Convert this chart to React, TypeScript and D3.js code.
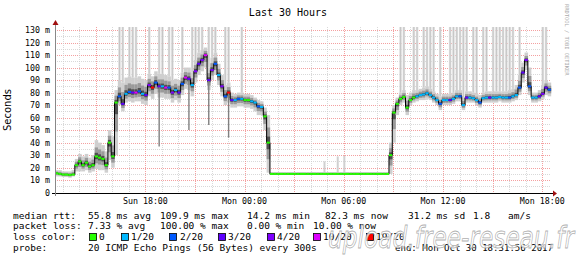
import React from "react";
import * as d3 from "d3";

const START = new Date(2017, 9, 29, 12, 31, 56);
const END = new Date(2017, 9, 30, 18, 31, 56);
const STEP_MIN = 12;
const Y_MAX = 132.4;

// median rtt (ms), one value per 12-minute step
const median = [
  15.5, 15, 14.5, 14.5, 14.2, 14.5, 22, 25, 22, 24,
  21, 22, 29, 28, 27, 22, 40, 29, 72, 77,
  71, 79, 80.5, 80, 80, 81, 79, 78, 86, 84,
  88, 85, 85, 84, 84, 80, 82, 80, 87, 92,
  91, 86, 97, 103, 106, 109.9, 90, 98, 103, 94,
  85, 77, 80, 74, 74, 75, 75, 74, 74, 73,
  72, 69, 68.5, 61, 40, 15, 15, 15, 15, 15,
  15, 15, 15, 15, 15, 15, 15, 15, 15, 15,
  15, 15, 15, 15, 15, 15, 15, 15, 15, 15,
  15, 15, 15, 15, 15, 15, 15, 15, 15, 15,
  15, 30, 64, 71, 75, 76.5, 68, 74, 76, 77,
  78, 78.5, 79.5, 78, 76, 74, 71, 74, 74, 74,
  75, 77, 77, 70, 76, 76, 75.5, 74, 72, 75.5,
  76, 76, 76, 76, 76.5, 76, 76, 76, 77, 78,
  84, 96, 106, 85, 76, 76, 77, 79, 84, 82.3,
];

// lost pings out of 20 per step
const loss = [
  0, 0, 0, 0, 0, 0, 0, 0, 0, 0,
  0, 0, 0, 0, 0, 0, 0, 0, 0, 2,
  3, 1, 2, 3, 10, 2, 1, 3, 4, 19,
  2, 3, 1, 10, 2, 4, 1, 3, 2, 10,
  3, 1, 4, 3, 4, 10, 3, 4, 2, 1,
  4, 2, 19, 3, 1, 2, 1, 0, 0, 1,
  1, 2, 1, 0, 0, 0, 0, 0, 0, 0,
  0, 0, 0, 0, 0, 0, 0, 0, 0, 0,
  0, 0, 0, 0, 0, 0, 0, 0, 0, 0,
  0, 0, 0, 0, 0, 0, 0, 0, 0, 0,
  0, 0, 0, 0, 0, 0, 0, 0, 0, 1,
  1, 1, 1, 1, 1, 1, 2, 1, 1, 3,
  1, 1, 2, 1, 3, 1, 1, 1, 2, 1,
  1, 3, 1, 1, 1, 1, 1, 2, 1, 1,
  2, 3, 4, 2, 1, 1, 3, 4, 3, 2,
];

// smoke: lowest / highest ping of the main cloud (ms)
const smokeLo = [
  13, 13, 12.5, 12.5, 12, 13, 17, 17, 17, 18,
  16, 17, 19, 18, 18, 16, 26, 20, 30, 70,
  65, 72, 73, 72, 73, 73, 71, 70, 77, 75,
  79, 76, 76, 75, 75, 72, 74, 72, 78, 83,
  82, 77, 88, 94, 97, 100, 82, 90, 94, 86,
  77, 70, 72, 68, 68, 69, 69, 68, 68, 67,
  65, 62, 62, 50, 16, 14.5, 14.5, 14.5, 14.5, 14.5,
  14.5, 14.5, 14.5, 14.5, 14.5, 14.5, 14.5, 14.5, 14.5, 14.5,
  14.5, 14.5, 14.5, 14.5, 14.5, 14.5, 14.5, 14.5, 14.5, 14.5,
  14.5, 14.5, 14.5, 14.5, 14.5, 14.5, 14.5, 14.5, 14.5, 14.5,
  14.5, 15, 40, 62, 70, 72, 62, 70, 72, 73,
  74, 74, 75, 74, 72, 70, 66, 70, 70, 70,
  71, 73, 73, 66, 72, 72, 72, 70, 68, 72,
  72, 72, 72, 72, 73, 72, 72, 72, 73, 74,
  78, 88, 98, 78, 72, 72, 73, 75, 78, 77,
];
const smokeHi = [
  18, 18, 17, 17, 17, 18, 27, 31, 29, 31,
  28, 30, 42, 40, 38, 33, 50, 45, 82, 90,
  88, 92, 93, 92, 92, 93, 91, 90, 95, 93,
  97, 95, 95, 94, 93, 90, 91, 90, 96, 100,
  100, 96, 106, 112, 114, 116, 100, 108, 112, 103,
  94, 86, 88, 80, 79, 80, 80, 79, 79, 78,
  76, 74, 73, 68, 62, 16.5, 16.5, 16.5, 16.5, 16.5,
  16.5, 16.5, 16.5, 16.5, 16.5, 16.5, 16.5, 16.5, 16.5, 16.5,
  16.5, 16.5, 16.5, 16.5, 16.5, 16.5, 16.5, 16.5, 16.5, 16.5,
  16.5, 16.5, 16.5, 16.5, 16.5, 16.5, 16.5, 16.5, 16.5, 16.5,
  16.5, 40, 70, 76, 80, 82, 78, 80, 82, 82,
  83, 84, 85, 83, 81, 79, 77, 79, 79, 79,
  80, 82, 82, 76, 81, 81, 80, 79, 78, 80,
  81, 81, 81, 81, 81, 81, 81, 82, 83, 86,
  94, 104, 112, 100, 80, 80, 82, 86, 90, 88,
];

// steps whose slowest ping went off the top of the graph
const spikeSteps = [
  19, 20, 22, 23, 24, 28, 31, 32, 34, 35, 38, 41, 42, 43, 44, 46, 47, 48, 51, 52, 56,
  104, 105, 108, 109, 111, 112, 113, 114, 116, 119, 120, 121, 122, 123, 124, 126, 127,
  129, 130, 132, 133, 134, 135, 136, 137, 138, 140, 147, 148,
];
// isolated slow pings in the flat stretch: [step, ms]
const smallSpikes: [number, number][] = [[81, 25], [85, 29], [87, 29.5]];
// steps with a single very fast ping: [step, ms]
const dipSteps: [number, number][] = [
  [31, 37], [40, 50], [46, 54], [52, 44],
];

const yTicks = [0, 10, 20, 30, 40, 50, 60, 70, 80, 90, 100, 110, 120, 130];
const yTickLabels = ["0", "10 m", "20 m", "30 m", "40 m", "50 m", "60 m", "70 m", "80 m", "90 m", "100 m", "110 m", "120 m", "130 m"];
const xLabelTimes = [
  new Date(2017, 9, 29, 18, 0), new Date(2017, 9, 30, 0, 0), new Date(2017, 9, 30, 6, 0),
  new Date(2017, 9, 30, 12, 0), new Date(2017, 9, 30, 18, 0),
];

const lossLevels = [0, 1, 2, 3, 4, 10, 19];
const lossLabels = ["0", "1/20", "2/20", "3/20", "4/20", "10/20", "19/20"];
const lossColorList = ["#26ff00", "#00b8ff", "#0059ff", "#5e00ff", "#7e00ff", "#dd00ff", "#ff0000"];

const rttLine = [
  ["median rtt:", 13], ["55.8 ms avg", 88], ["109.9 ms max", 160], ["14.2 ms min", 247],
  ["82.3 ms now", 325], ["31.2 ms sd", 408], ["1.8", 473], ["am/s", 508],
];
const lossLine = [
  ["packet loss:", 13], ["7.33 % avg", 88], ["100.00 % max", 160], ["0.00 % min", 247], ["10.00 % now", 313],
];
const legendBoxX = [89, 121, 169, 218, 267, 313, 366];
const legendTextX = [99, 131, 180, 228, 277, 323, 376];

const MONO = "'DejaVu Sans Mono', monospace";

function lossColor(l: number) {
  let idx = 0;
  for (let k = 0; k < lossLevels.length; k++) if (l >= lossLevels[k]) idx = k;
  return lossColorList[idx];
}

export default function App() {
  const W = 576, H = 260;
  const left = 55, right = 551, top = 27, bottom = 192.7;
  const x = d3.scaleTime().domain([START, END]).range([left, right]);
  const y = d3.scaleLinear().domain([0, Y_MAX]).range([bottom, top]);
  const N = median.length;
  const times = d3.range(N + 1).map((i) => new Date(START.getTime() + i * STEP_MIN * 60000));
  const fmt = d3.timeFormat("%a %H:%M");

  const hGrid = d3.range(5, 131, 5);
  const vGrid = x.ticks(d3.timeHour.every(1)!);

  const stepLine = d3
    .line<number>()
    .x((_, i) => x(times[i]))
    .y((d) => y(d))
    .curve(d3.curveStepAfter)(median.concat([median[N - 1]]));

  const axisY = Math.round(bottom) + 0.5;

  return (
    <svg width={W} height={H} style={{ position: "absolute", left: 0, top: 0, background: "#fff" }}>
      <rect x={0} y={0} width={W} height={H} fill="#fff" />
      {/* title */}
      <text x={288} y={16} textAnchor="middle" fontFamily={MONO} fontSize={10} fill="#000">Last 30 Hours</text>
      <text transform="translate(565,4) rotate(90)" fontFamily={MONO} fontSize={5.4} fill="#aaa">RRDTOOL / TOBI OETIKER</text>
      <text transform="translate(11,110) rotate(-90)" textAnchor="middle" fontFamily="'DejaVu Sans', sans-serif" fontSize={10} fill="#000">Seconds</text>

      {/* grid */}
      {hGrid.map((v) => {
        const yy = Math.round(y(v)) + 0.5;
        const major = v % 10 === 0;
        return (
          <line key={"h" + v} x1={left} x2={right} y1={yy} y2={yy}
            stroke={major ? "#f08080" : "#cccccc"} strokeOpacity={0.75}
            strokeDasharray="1,1" shapeRendering="crispEdges" />
        );
      })}
      {vGrid.map((t) => {
        const xx = Math.round(x(t)) + 0.5;
        const major = t.getHours() % 3 === 0;
        return (
          <line key={"v" + t.getTime()} x1={xx} x2={xx} y1={top} y2={bottom}
            stroke={major ? "#f08080" : "#cccccc"} strokeOpacity={0.75}
            strokeDasharray="1,1" shapeRendering="crispEdges" />
        );
      })}

      {/* spikes to top */}
      {spikeSteps.map((i) => {
        const x0 = x(times[i]);
        const x1 = x(times[i + 1]);
        const yt = y(smokeHi[i]);
        return (
          <g key={"s" + i}>
            <rect x={x0 + 0.4} y={top} width={x1 - x0 - 0.8} height={yt - top} fill="#dedede" />
            <rect x={(x0 + x1) / 2 - 0.5} y={top} width={1} height={yt - top} fill="#c6c6c6" />
          </g>
        );
      })}
      {smallSpikes.map(([i, v]) => {
        const xx = (x(times[i]) + x(times[i + 1])) / 2;
        return <rect key={"ss" + i} x={xx - 1} y={y(v)} width={2} height={y(median[i]) - y(v)} fill="#d0d0d0" />;
      })}

      {/* smoke */}
      {median.map((m, i) => {
        const x0 = x(times[i]);
        const w = x(times[i + 1]) - x0;
        const lo = smokeLo[i], hi = smokeHi[i];
        const layers = [
          { f: 1, c: "#cfcfcf" },
          { f: 0.55, c: "#9a9a9a" },
          { f: 0.22, c: "#505050" },
        ];
        return (
          <g key={"k" + i}>
            {layers.map((L, j) => {
              const a = m - (m - lo) * L.f;
              const b = m + (hi - m) * L.f;
              return <rect key={j} x={x0} y={y(b)} width={w + 0.2} height={Math.max(0, y(a) - y(b))} fill={L.c} />;
            })}
          </g>
        );
      })}
      {dipSteps.map(([i, v]) => {
        const xx = (x(times[i]) + x(times[i + 1])) / 2;
        return <line key={"d" + i} x1={xx} x2={xx} y1={y(median[i])} y2={y(v)} stroke="#808080" strokeWidth={1.4} />;
      })}

      {/* median */}
      <path d={stepLine || ""} fill="none" stroke="#000" strokeWidth={1} />
      {median.map((m, i) => (
        <line key={"m" + i} x1={x(times[i])} x2={x(times[i + 1])} y1={y(m)} y2={y(m)}
          stroke={lossColor(loss[i])} strokeWidth={2} />
      ))}

      {/* axes */}
      <line x1={52} x2={554} y1={axisY} y2={axisY} stroke="#000" strokeWidth={1} />
      <path d={`M553,${axisY - 3}L557,${axisY}L553,${axisY + 3}Z`} fill="#a01010" />
      <line x1={55.5} x2={55.5} y1={196} y2={24} stroke="#888" strokeWidth={1} />
      <path d={`M52.5,25L55.5,20L58.5,25Z`} fill="#a01010" />

      {/* y labels */}
      {yTicks.map((v, i) => (
        <text key={"yl" + v} x={50} y={y(v) + 3} textAnchor="end" fontFamily={MONO} fontSize={8.3} fill="#000">
          {yTickLabels[i]}
        </text>
      ))}
      {/* x labels */}
      {xLabelTimes.map((t) => (
        <text key={"xl" + t.getTime()} x={x(t)} y={203.5} textAnchor="middle" fontFamily={MONO} fontSize={8.3} fill="#000">
          {fmt(t)}
        </text>
      ))}

      {/* legend */}
      {rttLine.map(([s, xx]) => (
        <text key={"r" + s} x={xx as number} y={218.5} fontFamily={MONO} fontSize={9.5} fill="#000">{s}</text>
      ))}
      {lossLine.map(([s, xx]) => (
        <text key={"p" + s} x={xx as number} y={229} fontFamily={MONO} fontSize={9.5} fill="#000">{s}</text>
      ))}
      <text x={13} y={239.5} fontFamily={MONO} fontSize={9.5} fill="#000">loss color:</text>
      {lossLabels.map((s, i) => (
        <g key={"lc" + s}>
          <rect x={legendBoxX[i] + 0.5} y={233.5} width={7} height={7} fill={lossColorList[i]} stroke="#000" strokeWidth={0.8} />
          <text x={legendTextX[i]} y={239.5} fontFamily={MONO} fontSize={9.5} fill="#000">{s}</text>
        </g>
      ))}
      <text x={13} y={250.5} fontFamily={MONO} fontSize={9.5} fill="#000">probe:</text>
      <text x={88} y={250.5} fontFamily={MONO} fontSize={9.5} fill="#000">20 ICMP Echo Pings (56 Bytes) every 300s</text>
      <text x={395} y={250.5} fontFamily={MONO} fontSize={9.5} fill="#000" textLength={158} lengthAdjust="spacingAndGlyphs">end: Mon Oct 30 18:31:56 2017</text>

      {/* host watermark */}
      <text x={328} y={248} fontFamily="'DejaVu Sans', sans-serif" fontStyle="italic" fontSize={30}
        fill="#ffffff" fillOpacity={0.75} stroke="#9a9a9a" strokeWidth={0.8} strokeOpacity={0.8}
        textLength={246} lengthAdjust="spacingAndGlyphs">upload.free-reseau.fr</text>
    </svg>
  );
}
